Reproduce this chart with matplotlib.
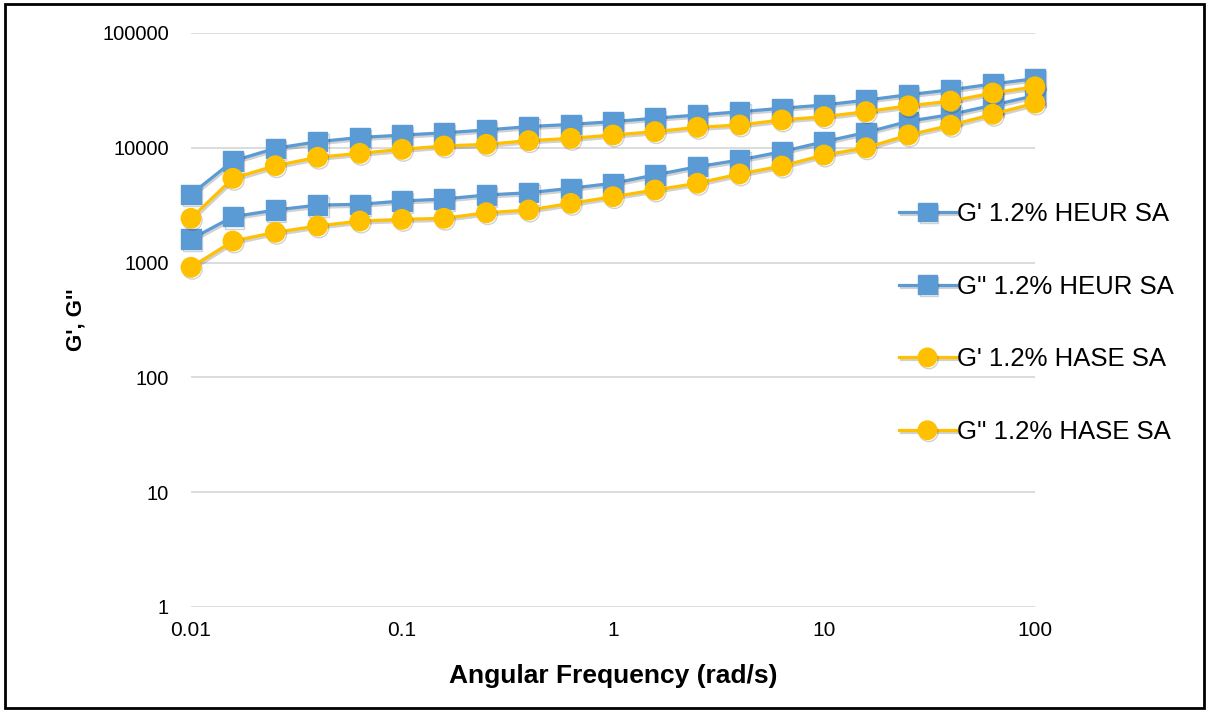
"""Storage and loss modulus vs angular frequency for HEUR and HASE thickeners."""

import matplotlib
matplotlib.use("Agg")
import matplotlib.pyplot as plt
import matplotlib.patheffects as pe
from matplotlib.patches import Rectangle

plt.rcParams["font.family"] = ["Liberation Sans", "DejaVu Sans"]

# angular frequency (rad/s), 5 points per decade
freq = [0.01, 0.0158, 0.0251, 0.0398, 0.0631,
        0.1, 0.158, 0.251, 0.398, 0.631,
        1, 1.58, 2.51, 3.98, 6.31,
        10, 15.8, 25.1, 39.8, 63.1, 100]

g1_heur = [3930, 7670, 9900, 11300, 12300, 12900, 13500, 14300, 15300, 16000,
           16900, 18100, 19300, 20600, 22100, 23600, 26000, 29000, 32000, 36000, 40000]
g2_heur = [1600, 2510, 2870, 3170, 3220, 3440, 3580, 3880, 4060, 4440,
           4910, 5800, 6840, 7830, 9250, 11300, 13600, 17000, 19500, 23500, 28500]
g1_hase = [2430, 5420, 6980, 8270, 8950, 9700, 10370, 10720, 11530, 12090,
           12930, 13820, 15080, 15800, 17470, 18660, 20640, 23200, 25500, 30000, 34000]
g2_hase = [910, 1540, 1835, 2085, 2300, 2380, 2430, 2720, 2870, 3280,
           3750, 4290, 4910, 5920, 6940, 8650, 10000, 12930, 15700, 19600, 24500]

labels = ["G' 1.2% HEUR SA", "G'' 1.2% HEUR SA", "G' 1.2% HASE SA", "G'' 1.2% HASE SA"]
series = [g1_heur, g2_heur, g1_hase, g2_hase]
colors = ["#5B9BD5", "#5B9BD5", "#FFC000", "#FFC000"]
markers = ["s", "s", "o", "o"]

xticks = [0.01, 0.1, 1, 10, 100]
xticklabels = ["0.01", "0.1", "1", "10", "100"]
yticks = [1, 10, 100, 1000, 10000, 100000]
yticklabels = ["1", "10", "100", "1000", "10000", "100000"]


def main():
    fig = plt.figure(figsize=(12.09, 7.11), dpi=100)
    ax = fig.add_axes([191 / 1209, 1 - 607 / 711, (1035 - 191) / 1209, (607 - 33) / 711])

    for vals, lab, col, mk in zip(series, labels, colors, markers):
        line, = ax.plot(freq, vals, color=col, marker=mk, markersize=14,
                        linewidth=2.3, label=lab, clip_on=False)
        line.set_path_effects([pe.SimpleLineShadow(offset=(1, -1.5), alpha=0.18,
                                                   shadow_color="black"),
                               pe.Normal()])

    ax.set_xscale("log")
    ax.set_yscale("log")
    ax.set_xlim(0.01, 100)
    ax.set_ylim(1, 100000)
    ax.set_xticks(xticks, xticklabels)
    ax.set_yticks(yticks, yticklabels)
    ax.minorticks_off()
    ax.tick_params(axis="x", length=0, labelsize=15, pad=10)
    ax.tick_params(axis="y", length=0, labelsize=14.5, pad=16)
    ax.grid(axis="y", color="#D9D9D9", linewidth=1.3)
    ax.set_axisbelow(True)
    for s in ax.spines.values():
        s.set_visible(False)

    ax.set_xlabel("Angular Frequency (rad/s)", fontsize=19, fontweight="bold", labelpad=17)
    ax.set_ylabel("G', G''", fontsize=16, fontweight="bold", labelpad=11)

    fig.legend(loc="center left", bbox_to_anchor=(876 / 1209, 1 - 323 / 711),
               frameon=False, fontsize=18.5, labelspacing=1.9, handlelength=2.2,
               handletextpad=0.05, markerscale=0.95)

    fig.patches.append(Rectangle((0.004, 0.004), 0.992, 0.99, transform=fig.transFigure,
                                 fill=False, edgecolor="black", linewidth=2))

    fig.savefig("out.png", dpi=100)


if __name__ == "__main__":
    main()
